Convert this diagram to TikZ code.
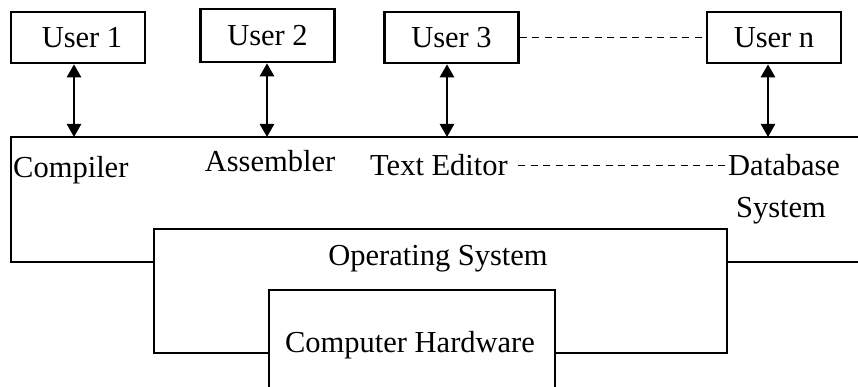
\documentclass[tikz,border=0pt]{standalone}
\usepackage{fontspec}
\setmainfont{Liberation Serif}
\usetikzlibrary{arrows.meta}
\tikzset{
  userbox/.style={draw, line width=2.6pt, minimum width=134pt, minimum height=51pt, inner sep=0pt},
  lbl/.style={inner sep=1pt, font=\fontsize{30.5}{36}\selectfont},
  layer/.style={line width=2.6pt, line join=miter},
  link/.style={line width=2.6pt, {Triangle[width=14pt,length=13pt]}-{Triangle[width=14pt,length=13pt]}},
  dashline/.style={line width=1.3pt, dash pattern=on 7pt off 5.5pt}
}
\begin{document}
\begin{tikzpicture}[x=1pt,y=-1pt]
\useasboundingbox (0,0) rectangle (858,387);
\clip (0,0) rectangle (858,387);
% user boxes
\node[userbox, lbl, inner sep=0pt] (u1) at (78,37.5) {\hspace*{8pt}User 1};
\node[userbox, lbl, inner sep=0pt, minimum height=53pt] (u2) at (267.5,35.5) {User 2};
\node[userbox, lbl, inner sep=0pt] (u3) at (451.5,37.5) {User 3};
\node[userbox, lbl, inner sep=0pt] (un) at (774,37.5) {User n};
\draw[dashline] (u3.east) -- (un.west);
% layer outlines
\coordinate (a1) at (74,137);
\coordinate (a2) at (267,137);
\coordinate (a3) at (447,137);
\coordinate (an) at (768,137);
\draw[layer] (858,137) -- (11,137) -- (11,262) -- (154,262);
\draw[layer] (269,353) -- (154,353) -- (154,229) -- (727,229) -- (727,353) -- (555,353);
\draw[layer] (727,262) -- (858,262);
\draw[layer] (269,400) -- (269,290) -- (555,290) -- (555,400);
% arrows
\draw[link] (u1.south -| a1) -- (a1);
\draw[link] (u2.south -| a2) -- (a2);
\draw[link] (u3.south -| a3) -- (a3);
\draw[link] (un.south -| an) -- (an);
% labels
\node[lbl, anchor=base west] (comp) at (12,178) {Compiler};
\node[lbl, anchor=base] (asm) at (270,172) {Assembler};
\node[lbl, anchor=base west] (te) at (369,176) {Text Editor};
\node[lbl, anchor=base west] (db) at (727,176) {Database};
\node[lbl, anchor=base] (sys) at (781,218) {System};
\draw[dashline] ([xshift=9pt]te.east) -- (db.west);
\node[lbl, anchor=base] (os) at (438,265) {Operating System};
\node[lbl, anchor=base] (hw) at (410,352) {Computer Hardware};
\end{tikzpicture}
\end{document}
